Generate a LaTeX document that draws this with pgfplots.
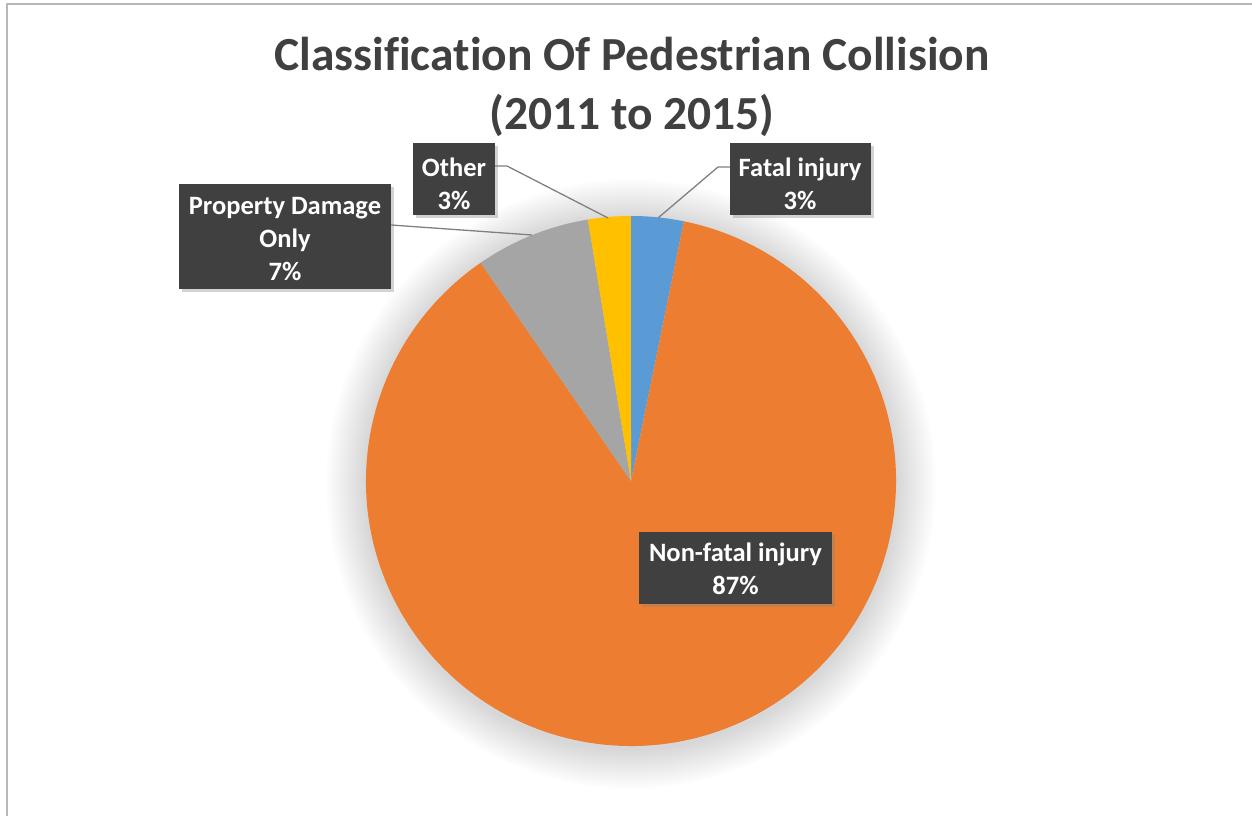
\documentclass[border=0pt]{standalone}
\usepackage{pgfplots}
\pgfplotsset{compat=1.18}
\usepackage{pgfplotstable}
\usepackage{fontspec}
\setmainfont{Carlito}[Ligatures=NoCommon]
\usetikzlibrary{shadows}
\definecolor{pieblue}{HTML}{5B9BD5}
\definecolor{pieorange}{HTML}{ED7D31}
\definecolor{piegray}{HTML}{A5A5A5}
\definecolor{piegold}{HTML}{FFC000}
\definecolor{boxgray}{HTML}{404040}
\definecolor{titlegray}{HTML}{404040}
\definecolor{leader}{HTML}{808080}
\tikzset{
  boxst/.style={fill=boxgray, inner sep=0pt,
    drop shadow={shadow xshift=3pt, shadow yshift=-3pt, opacity=0.35}},
  txtst/.style={text=white, align=center, inner sep=0pt,
    font=\fontsize{26.5}{33}\selectfont\bfseries}}
\newcommand\lbox[6]{%
  \node[boxst, minimum width=#3, minimum height=#4] at (axis cs:#1,#2) {};
  \node[txtst] at (axis cs:#1,{#2-#5}) {#6};}

\pgfplotstableread{
label value
Fatal 3.2
Nonfatal 87.2
Property 7.0
Other 2.6
}\piedata

\pgfplotstablegetelem{0}{value}\of\piedata \let\vA\pgfplotsretval
\pgfplotstablegetelem{1}{value}\of\piedata \let\vB\pgfplotsretval
\pgfplotstablegetelem{2}{value}\of\piedata \let\vC\pgfplotsretval
\pgfplotstablegetelem{3}{value}\of\piedata \let\vD\pgfplotsretval
\pgfmathsetmacro{\tot}{\vA+\vB+\vC+\vD}
\pgfmathsetmacro{\aA}{90}
\pgfmathsetmacro{\aB}{\aA-\vA/\tot*360}
\pgfmathsetmacro{\aC}{\aB-\vB/\tot*360}
\pgfmathsetmacro{\aD}{\aC-\vC/\tot*360}
\pgfmathsetmacro{\aE}{\aD-\vD/\tot*360}

\begin{document}
\begin{tikzpicture}
\begin{axis}[
  at={(0,0)}, anchor=south west,
  scale only axis, width=1252pt, height=816pt,
  xmin=0, xmax=1252, ymin=0, ymax=816,
  hide axis, clip=false,
]
% frame
\draw[black!28, line width=1.5pt] (axis cs:7,0) -- (axis cs:7,812) -- (axis cs:1252,812);
% soft shadow
\pgfplotsinvokeforeach{267,269,...,305}{
  \fill[black, opacity=0.0085] (axis cs:631,332) circle[radius=#1pt];
}
% slices
\fill[pieblue] (axis cs:631,335) -- +(\aA:265pt) arc[start angle=\aA, end angle=\aB, radius=265pt] -- cycle;
\fill[pieorange] (axis cs:631,335) -- +(\aB:265pt) arc[start angle=\aB, end angle=\aC, radius=265pt] -- cycle;
\fill[piegray] (axis cs:631,335) -- +(\aC:265pt) arc[start angle=\aC, end angle=\aD, radius=265pt] -- cycle;
\fill[piegold] (axis cs:631,335) -- +(\aD:265pt) arc[start angle=\aD, end angle=\aE, radius=265pt] -- cycle;
% leaders
\draw[leader, line width=1.3pt] (axis cs:730,649) -- (axis cs:718,649) -- (axis cs:658,598);
\draw[leader, line width=1.3pt] (axis cs:495,650) -- (axis cs:507,650) -- (axis cs:608,598);
\draw[leader, line width=1.3pt] (axis cs:391,591) -- (axis cs:532,581);
% title
\node[anchor=base, text=titlegray, font=\fontsize{47.5}{58}\selectfont\bfseries] at (axis cs:632,745) {Classification Of Pedestrian Collision};
\node[anchor=base, text=titlegray, font=\fontsize{47.5}{58}\selectfont\bfseries] at (axis cs:632,686) {(2011 to 2015)};
% labels
\lbox{800}{637}{141pt}{72pt}{5}{Fatal injury\\3\%}
\lbox{454}{637}{82pt}{72pt}{5}{Other\\3\%}
\lbox{285}{579.5}{212pt}{105pt}{3}{Property Damage\\Only\\7\%}
\lbox{735.5}{248}{193pt}{72pt}{1}{Non-fatal injury\\87\%}
\end{axis}
\pgfresetboundingbox
\path[use as bounding box] (0,0) rectangle (1252pt,816pt);
\end{tikzpicture}
\end{document}
